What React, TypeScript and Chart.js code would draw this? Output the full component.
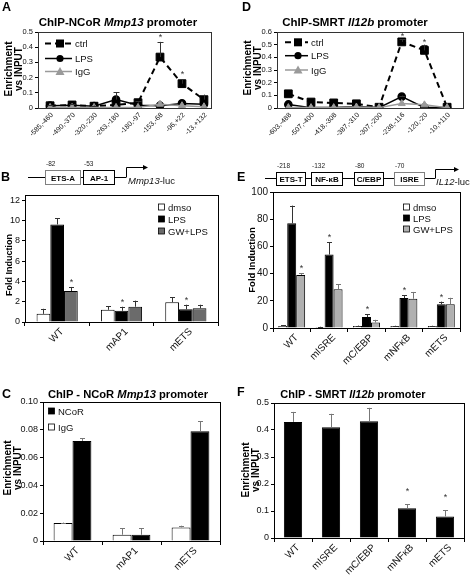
import React, { useEffect, useRef } from "react";
import { Chart, registerables } from "chart.js";

Chart.register(...registerables);

const FONT = "'Liberation Sans', Arial, Helvetica, sans-serif";

// ---------- Panel A: ChIP-NCoR Mmp13 promoter ----------
const aLabels = ["-585,-460", "-490,-370", "-320,-230", "-263,-180", "-180,-97", "-153,-68", "-96,+22", "-13,+132"];
const aCtrl = [0.015, 0.02, 0.012, 0.02, 0.035, 0.335, 0.16, 0.055];
const aCtrlErr = [0.005, 0.005, 0.004, 0, 0.008, 0.1, 0.03, 0.033];
const aCtrlStars = [0, 0, 0, 0, 0, 1, 1, 0];
const aLps = [0.015, 0.018, 0.012, 0.055, 0.018, 0.015, 0.03, 0.025];
const aLpsErr = [0, 0, 0, 0.05, 0, 0, 0, 0];
const aIgG = [0.004, 0.004, 0.004, 0.004, 0.004, 0.025, 0.015, 0.008];
const aYTicks = [0, 0.1, 0.2, 0.3, 0.4, 0.5];
const aYLabels = ["0", "0.1", "0.2", "0.3", "0.4", "0.5"];

// ---------- Panel D: ChIP-SMRT Il12b promoter ----------
const dLabels = ["-603,-488", "-507,-400", "-418,-308", "-387,-310", "-307,-200", "-238,-116", "-120,-20", "-10,+110"];
const dCtrl = [0.112, 0.047, 0.04, 0.033, 0.006, 0.522, 0.455, 0.006];
const dCtrlErr = [0, 0, 0, 0, 0, 0.02, 0.045, 0];
const dCtrlStars = [0, 0, 0, 0, 0, 1, 1, 0];
const dLps = [0.028, 0.003, 0.003, 0.012, 0.003, 0.09, 0.003, 0.004];
const dLpsErr = [0, 0, 0, 0, 0, 0.008, 0, 0];
const dIgG = [0.003, 0.003, 0.003, 0.008, 0.003, 0.035, 0.025, 0.003];
const dYTicks = [0, 0.1, 0.2, 0.3, 0.4, 0.5, 0.6];
const dYLabels = ["0", "0.1", "0.2", "0.3", "0.4", "0.5", "0.6"];

// ---------- Panel B: Mmp13-luc fold induction ----------
const bLabels = ["WT", "mAP1", "mETS"];
const bDmso = [0.8, 1.2, 1.95];
const bDmsoErr = [0.5, 0.35, 0.5];
const bLps = [9.6, 1.1, 1.25];
const bLpsErr = [0.6, 0.4, 0.45];
const bLpsStars = [0, 1, 1];
const bGw = [3.05, 1.5, 1.35];
const bGwErr = [0.4, 0.6, 0.35];
const bGwStars = [1, 0, 0];
const bYTicks = [0, 2, 4, 6, 8, 10, 12];
const bYLabels = ["0", "2", "4", "6", "8", "10", "12"];

// ---------- Panel E: IL12-luc fold induction ----------
const eLabels = ["WT", "mISRE", "mC/EBP", "mNFκB", "mETS"];
const eDmso = [1.5, 0.8, 1.5, 1.5, 1.5];
const eDmsoErr = [0.5, 0.2, 0.3, 0.2, 0.2];
const eLps = [77, 54, 8, 22, 17.4];
const eLpsErr = [13, 9, 2, 2, 2];
const eLpsStars = [0, 1, 1, 1, 1];
const eGw = [39, 28.5, 4, 21.5, 17.4];
const eGwErr = [1.2, 3.8, 2, 5, 4.8];
const eGwStars = [1, 0, 0, 0, 0];
const eYTicks = [0, 10, 20, 30, 40, 50, 60, 70, 80, 90, 100];
const eYLabels = ["0", "10", "20", "30", "40", "50", "60", "70", "80", "90", "100"];

// ---------- Panel C: ChIP - NCoR Mmp13 promoter ----------
const cLabels = ["WT", "mAP1", "mETS"];
const cIgG = [0.013, 0.0045, 0.0098];
const cIgGErr = [0.0003, 0.0045, 0.0012];
const cNcor = [0.072, 0.0045, 0.079];
const cNcorErr = [0.002, 0.0045, 0.007];
const cYTicks = [0, 0.02, 0.04, 0.06, 0.08, 0.1];
const cYLabels = ["0", "0.02", "0.04", "0.06", "0.08", "0.10"];

// ---------- Panel F: ChIP - SMRT Il12b promoter ----------
const fLabels = ["WT", "mISRE", "mC/EBP", "mNFκB", "mETS"];
const fSmrt = [0.43, 0.41, 0.432, 0.11, 0.08];
const fSmrtErr = [0.037, 0.05, 0.05, 0.015, 0.023];
const fSmrtStars = [0, 0, 0, 1, 1];
const fYTicks = [0, 0.1, 0.2, 0.3, 0.4, 0.5];
const fYLabels = ["0", "0.1", "0.2", "0.3", "0.4", "0.5"];

type Geom = { left: number; top: number; width: number; height: number; x0: number; y0: number; x1: number; y1: number };

const extras = {
  id: "extras",
  beforeDatasetsDraw(chart: any) {
    const o = chart.options.plugins.extras || {};
    const { ctx, chartArea: a } = chart;
    ctx.save();
    ctx.strokeStyle = o.boxColor || "#000";
    ctx.lineWidth = 1;
    ctx.strokeRect(Math.round(a.left) + 0.5, Math.round(a.top) + 0.5, Math.round(a.right - a.left), Math.round(a.bottom - a.top));
    ctx.restore();
  },
  afterDatasetsDraw(chart: any) {
    const o = chart.options.plugins.extras || {};
    const { ctx } = chart;
    const ys = chart.scales.y;
    ctx.save();
    chart.data.datasets.forEach((ds: any, di: number) => {
      const meta = chart.getDatasetMeta(di);
      meta.data.forEach((el: any, i: number) => {
        const v = meta.controller.getParsed(i).y;
        const e = ds.errors ? ds.errors[i] : 0;
        const x = Math.round(el.x) + 0.5;
        const yv = ys.getPixelForValue(v);
        const yTop = ys.getPixelForValue(v + e);
        if (e > 0) {
          ctx.strokeStyle = ds.errorColor || "#333";
          ctx.lineWidth = 1;
          ctx.beginPath();
          ctx.moveTo(x, yv);
          ctx.lineTo(x, yTop);
          const cw = o.capHalf ?? 2.5;
          ctx.moveTo(x - cw, Math.round(yTop) + 0.5);
          ctx.lineTo(x + cw, Math.round(yTop) + 0.5);
          ctx.stroke();
        }
        if (ds.stars && ds.stars[i]) {
          ctx.fillStyle = "#333";
          ctx.font = `9px ${FONT}`;
          ctx.textAlign = "center";
          ctx.textBaseline = "alphabetic";
          ctx.fillText("*", x, yTop - (o.starOffset ?? 7) + 5);
        }
      });
    });
    ctx.restore();
  },
  afterDraw(chart: any) {
    const o = chart.options.plugins.extras || {};
    if (!o.xLabels) return;
    const { ctx, chartArea: a } = chart;
    const xs = chart.scales.x;
    ctx.save();
    ctx.fillStyle = "#111";
    ctx.font = `${o.xFont}px ${FONT}`;
    ctx.textAlign = "right";
    ctx.textBaseline = "middle";
    o.xLabels.forEach((lab: string, i: number) => {
      const x = xs.getPixelForTick(i);
      ctx.save();
      ctx.translate(x + o.xdx, a.bottom + o.xdy);
      ctx.rotate(-Math.PI / 4);
      ctx.fillText(lab, 0, 0);
      ctx.restore();
    });
    ctx.restore();
  },
};

function baseOptions(g: Geom, extraOpts: any) {
  return {
    animation: false,
    responsive: false,
    maintainAspectRatio: false,
    layout: { padding: { left: 0, top: g.y0 - g.top, right: g.left + g.width - g.x1, bottom: 0 } },
    plugins: { legend: { display: false }, tooltip: { enabled: false }, title: { display: false }, extras: extraOpts },
  };
}

function yAxis(g: Geom, max: number, ticksArr: number[], labels: string[], size: number) {
  return {
    type: "linear",
    min: 0,
    max,
    afterBuildTicks: (s: any) => {
      s.ticks = ticksArr.map((v) => ({ value: v }));
    },
    afterFit: (s: any) => {
      s.width = g.x0 - g.left;
      s.paddingTop = 0;
      s.paddingBottom = 0;
    },
    ticks: {
      callback: (_v: any, i: number) => labels[i],
      font: { family: FONT, size },
      color: "#111",
      padding: 2,
    },
    grid: { drawOnChartArea: false, drawTicks: true, tickLength: 3, color: "#000" },
    border: { color: "#000" },
  };
}

function xFit(g: Geom) {
  return (s: any) => {
    s.height = g.top + g.height - g.y1;
    s.paddingLeft = 0;
    s.paddingRight = 0;
  };
}

function lineConfig(g: Geom, labels: string[], ctrl: number[], ctrlErr: number[], stars: number[], lps: number[], lpsErr: number[], igg: number[], yTicks: number[], yLabels: string[], yMax: number, xMin: number, xMax: number, starOffset: number) {
  const pts = (arr: number[]) => arr.map((y, i) => ({ x: i, y }));
  return {
    type: "line",
    data: {
      datasets: [
        { label: "IgG", data: pts(igg), borderColor: "#9a9a9a", backgroundColor: "#9a9a9a", borderWidth: 1.5, pointStyle: "triangle", pointRadius: 4, pointBorderWidth: 1, order: 0 },
        { label: "LPS", data: pts(lps), borderColor: "#000", backgroundColor: "#000", borderWidth: 1.5, pointStyle: "circle", pointRadius: 3.6, errors: lpsErr, order: 1 },
        { label: "ctrl", data: pts(ctrl), borderColor: "#000", backgroundColor: "#000", borderWidth: 2, borderDash: [6, 4], pointStyle: "rect", pointRadius: 5.5, pointBorderWidth: 1, errors: ctrlErr, stars, order: 2 },
      ],
    },
    options: {
      ...baseOptions(g, { starOffset, capHalf: 3, boxColor: "#333", xLabels: labels, xFont: 7, xdx: 2, xdy: 6 }),
      scales: {
        x: {
          type: "linear",
          min: xMin,
          max: xMax,
          afterBuildTicks: (s: any) => {
            s.ticks = labels.map((_l, i) => ({ value: i }));
          },
          afterFit: xFit(g),
          ticks: { display: false },
          grid: { display: false, drawTicks: false },
          border: { color: "#000" },
        },
        y: yAxis(g, yMax, yTicks, yLabels, 7.5),
      },
    },
  };
}

function barConfig(g: Geom, labels: string[], datasets: any[], yTicks: number[], yLabels: string[], yMax: number, starOffset: number, yFont: number) {
  return {
    type: "bar",
    data: { labels, datasets },
    options: {
      ...baseOptions(g, { starOffset, capHalf: 2.5, boxColor: "#000", xLabels: labels, xFont: 10, xdx: 5, xdy: 8 }),
      scales: {
        x: {
          afterFit: xFit(g),
          ticks: { display: false },
          grid: { display: true, drawOnChartArea: false, offset: true, tickLength: 4, color: "#000" },
          border: { color: "#000" },
        },
        y: yAxis(g, yMax, yTicks, yLabels, yFont),
      },
    },
  };
}

const bar = (label: string, data: number[], color: string, errors: number[], stars: number[] | null, cat: number, barPct: number, errorColor = "#333") => ({
  label,
  data,
  backgroundColor: color,
  borderColor: "#000",
  borderWidth: 1,
  categoryPercentage: cat,
  barPercentage: barPct,
  errors,
  stars,
  errorColor,
});

const gA: Geom = { left: 0, top: 20, width: 236, height: 125, x0: 38, y0: 32, x1: 211, y1: 108 };
const gD: Geom = { left: 236, top: 20, width: 237, height: 125, x0: 277, y0: 32, x1: 463, y1: 108 };
const gB: Geom = { left: 0, top: 186, width: 236, height: 190, x0: 25, y0: 195, x1: 218, y1: 322 };
const gE: Geom = { left: 236, top: 186, width: 237, height: 195, x0: 273, y0: 192, x1: 460, y1: 328 };
const gC: Geom = { left: 0, top: 392, width: 236, height: 186, x0: 43, y0: 402, x1: 220, y1: 541 };
const gF: Geom = { left: 236, top: 392, width: 237, height: 186, x0: 274, y0: 403, x1: 464, y1: 538 };

const specs: { id: string; g: Geom; build: () => any }[] = [
  { id: "A", g: gA, build: () => lineConfig(gA, aLabels, aCtrl, aCtrlErr, aCtrlStars, aLps, aLpsErr, aIgG, aYTicks, aYLabels, 0.5, -0.55, 7.32, 7) },
  { id: "D", g: gD, build: () => lineConfig(gD, dLabels, dCtrl, dCtrlErr, dCtrlStars, dLps, dLpsErr, dIgG, dYTicks, dYLabels, 0.6, -0.5, 7.7, 5) },
  {
    id: "B",
    g: gB,
    build: () =>
      barConfig(
        gB,
        bLabels,
        [
          bar("dmso", bDmso, "#ffffff", bDmsoErr, null, 0.64, 1),
          bar("LPS", bLps, "#000000", bLpsErr, bLpsStars, 0.64, 1),
          bar("GW+LPS", bGw, "#6b6b6b", bGwErr, bGwStars, 0.64, 1),
        ],
        bYTicks,
        bYLabels,
        12.5,
        7,
        9
      ),
  },
  {
    id: "E",
    g: gE,
    build: () =>
      barConfig(
        gE,
        eLabels,
        [
          bar("dmso", eDmso, "#ffffff", eDmsoErr, null, 0.72, 1),
          bar("LPS", eLps, "#000000", eLpsErr, eLpsStars, 0.72, 1),
          bar("GW+LPS", eGw, "#b0b0b0", eGwErr, eGwStars, 0.72, 1, "#777"),
        ],
        eYTicks,
        eYLabels,
        100,
        7,
        10
      ),
  },
  {
    id: "C",
    g: gC,
    build: () =>
      barConfig(
        gC,
        cLabels,
        [bar("IgG", cIgG, "#ffffff", cIgGErr, null, 0.64, 1, "#777"), bar("NCoR", cNcor, "#000000", cNcorErr, null, 0.64, 1, "#777")],
        cYTicks,
        cYLabels,
        0.1,
        7,
        9
      ),
  },
  {
    id: "F",
    g: gF,
    build: () => barConfig(gF, fLabels, [bar("SMRT", fSmrt, "#000000", fSmrtErr, fSmrtStars, 1, 0.48, "#777")], fYTicks, fYLabels, 0.5, 15, 9),
  },
];

function ChartCanvas({ g, build }: { g: Geom; build: () => any }) {
  const ref = useRef<HTMLCanvasElement>(null);
  useEffect(() => {
    const chart = new Chart(ref.current as HTMLCanvasElement, { ...build(), plugins: [extras] });
    return () => chart.destroy();
  }, []);
  return (
    <canvas
      ref={ref}
      width={g.width}
      height={g.height}
      style={{ position: "absolute", left: g.left, top: g.top, width: g.width, height: g.height }}
    />
  );
}

const YTitle = ({ x, y, text, size }: { x: number; y: number; text: string; size: number }) => (
  <g transform={`translate(${x},${y}) rotate(-90)`}>
    <text textAnchor="middle" dominantBaseline="central" fontWeight="bold" fontSize={size}>
      {text}
    </text>
  </g>
);

const Marker = ({ kind, x, y, color }: { kind: string; x: number; y: number; color: string }) => {
  if (kind === "rect") return <rect x={x - 4} y={y - 4} width={8} height={8} fill={color} />;
  if (kind === "circle") return <circle cx={x} cy={y} r={3.6} fill={color} />;
  return <polygon points={`${x},${y - 4.5} ${x + 4.5},${y + 3.5} ${x - 4.5},${y + 3.5}`} fill={color} />;
};

const LineLegend = ({ x0, x1, mx, tx, ys }: { x0: number; x1: number; mx: number; tx: number; ys: number[] }) => {
  const items = [
    { label: "ctrl", color: "#000", kind: "rect", dash: "6 4", w: 2 },
    { label: "LPS", color: "#000", kind: "circle", dash: undefined, w: 1.5 },
    { label: "IgG", color: "#9a9a9a", kind: "triangle", dash: undefined, w: 1.5 },
  ];
  return (
    <g>
      {items.map((it, i) => (
        <g key={it.label}>
          <line x1={x0} x2={x1} y1={ys[i]} y2={ys[i]} stroke={it.color} strokeWidth={it.w} strokeDasharray={it.dash} />
          <Marker kind={it.kind} x={mx} y={ys[i]} color={it.color} />
          <text x={tx} y={ys[i]} dominantBaseline="central" fontSize={9.5} fill="#111">
            {it.label}
          </text>
        </g>
      ))}
    </g>
  );
};

const BarLegend = ({ x, ys, items }: { x: number; ys: number[]; items: { label: string; color: string }[] }) => (
  <g>
    {items.map((it, i) => (
      <g key={it.label}>
        <rect x={x + 0.5} y={ys[i] - 3} width={6} height={6} fill={it.color} stroke="#000" strokeWidth={0.8} />
        <text x={x + 10} y={ys[i]} dominantBaseline="central" fontSize={9.5} fill="#111">
          {it.label}
        </text>
      </g>
    ))}
  </g>
);

const PBox = ({ x, w, y, h, label, num, stroke }: { x: number; w: number; y: number; h: number; label: string; num: string; stroke: string }) => (
  <g>
    <rect x={x + 0.5} y={y + 0.5} width={w} height={h} fill="#fff" stroke={stroke} strokeWidth={1} />
    <text x={x + w / 2 + 0.5} y={y + h / 2 + 1} textAnchor="middle" dominantBaseline="central" fontWeight="bold" fontSize={8}>
      {label}
    </text>
    <text x={x + 1} y={y - 4} fontSize={6.5} fill="#222">
      {num}
    </text>
  </g>
);

const Arrow = ({ x, y, yTop, x2 }: { x: number; y: number; yTop: number; x2: number }) => (
  <g>
    <path d={`M${x + 0.5} ${y} V${yTop + 0.5} H${x2 - 3}`} fill="none" stroke="#000" strokeWidth={1} />
    <polygon points={`${x2 + 1},${yTop + 0.5} ${x2 - 4},${yTop - 2} ${x2 - 4},${yTop + 3}`} fill="#000" />
  </g>
);

export default function App() {
  return (
    <div style={{ position: "absolute", left: 0, top: 0, width: 473, height: 578, background: "#fff", overflow: "hidden" }}>
      {specs.map((s) => (
        <ChartCanvas key={s.id} g={s.g} build={s.build} />
      ))}
      <svg width={473} height={578} style={{ position: "absolute", left: 0, top: 0, pointerEvents: "none" }} fontFamily={FONT}>
        {/* panel letters */}
        <g fontWeight="bold" fontSize={12.5} fill="#000">
          <text x={2} y={11}>A</text>
          <text x={242} y={11}>D</text>
          <text x={1} y={181}>B</text>
          <text x={237} y={181}>E</text>
          <text x={2} y={398}>C</text>
          <text x={237} y={396}>F</text>
        </g>
        {/* titles */}
        <g fontWeight="bold" fontSize={11.5} textAnchor="middle" fill="#000">
          <text x={118} y={26}>
            ChIP-NCoR <tspan fontStyle="italic">Mmp13</tspan> promoter
          </text>
          <text x={355} y={26}>
            ChIP-SMRT <tspan fontStyle="italic">Il12b</tspan> promoter
          </text>
          <text x={128} y={398} fontSize={11.2}>
            ChIP - NCoR <tspan fontStyle="italic">Mmp13</tspan> promoter
          </text>
          <text x={353} y={398} fontSize={11}>
            ChIP - SMRT <tspan fontStyle="italic">Il12b</tspan> promoter
          </text>
        </g>
        {/* y-axis titles */}
        <YTitle x={8.5} y={69} text="Enrichment" size={10} />
        <YTitle x={18.5} y={69} text="vs INPUT" size={10} />
        <YTitle x={247} y={68} text="Enrichment" size={10} />
        <YTitle x={257} y={68} text="vs INPUT" size={10} />
        <YTitle x={8.5} y={265} text="Fold Induction" size={9} />
        <YTitle x={251} y={260} text="Fold Induction" size={9.5} />
        <YTitle x={7} y={468} text="Enrichment" size={10} />
        <YTitle x={17} y={468} text="vs INPUT" size={10} />
        <YTitle x={245} y={470} text="Enrichment" size={10} />
        <YTitle x={255} y={470} text="vs INPUT" size={10} />
        {/* line legends */}
        <LineLegend x0={45} x1={72} mx={60} tx={75} ys={[43.5, 58.5, 71.5]} />
        <LineLegend x0={285} x1={308} mx={298} tx={311} ys={[42.3, 55.7, 70]} />
        {/* bar legends */}
        <BarLegend
          x={158}
          ys={[207, 219, 231]}
          items={[
            { label: "dmso", color: "#fff" },
            { label: "LPS", color: "#000" },
            { label: "GW+LPS", color: "#6b6b6b" },
          ]}
        />
        <BarLegend
          x={403}
          ys={[207, 218, 229]}
          items={[
            { label: "dmso", color: "#fff" },
            { label: "LPS", color: "#000" },
            { label: "GW+LPS", color: "#b0b0b0" },
          ]}
        />
        <BarLegend
          x={48}
          ys={[411, 427]}
          items={[
            { label: "NCoR", color: "#000" },
            { label: "IgG", color: "#fff" },
          ]}
        />
        {/* promoter diagram B */}
        <g>
          <line x1={28} x2={126} y1={177.5} y2={177.5} stroke="#000" strokeWidth={1} />
          <PBox x={45} w={35} y={170} h={14} label="ETS-A" num="-82" stroke="#808080" />
          <PBox x={83} w={31} y={170} h={14} label="AP-1" num="-53" stroke="#000" />
          <Arrow x={126} y={177.5} yTop={167} x2={147} />
          <text x={128} y={184} fontSize={9.5} fill="#111">
            <tspan fontStyle="italic">Mmp13</tspan>-luc
          </text>
        </g>
        {/* promoter diagram E */}
        <g>
          <line x1={265} x2={435} y1={178.5} y2={178.5} stroke="#000" strokeWidth={1} />
          <PBox x={276} w={29} y={172} h={13} label="ETS-T" num="-218" stroke="#000" />
          <PBox x={311} w={31} y={172} h={13} label="NF-κB" num="-132" stroke="#000" />
          <PBox x={354} w={29} y={172} h={13} label="C/EBP" num="-80" stroke="#000" />
          <PBox x={394} w={30} y={172} h={13} label="ISRE" num="-70" stroke="#808080" />
          <Arrow x={435} y={178.5} yTop={169} x2={458} />
          <text x={436} y={185} fontSize={9.5} fill="#111">
            <tspan fontStyle="italic">IL12</tspan>-luc
          </text>
        </g>
      </svg>
    </div>
  );
}
